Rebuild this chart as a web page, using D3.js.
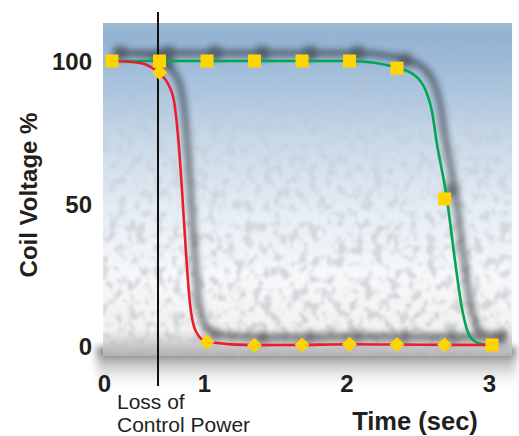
<!DOCTYPE html>
<html><head><meta charset="utf-8">
<script src="https://cdn.jsdelivr.net/npm/d3@7"></script>
<style>html,body{margin:0;padding:0;background:#fff;} svg{display:block;font-family:"Liberation Sans",Arial,Helvetica,sans-serif;}</style>
</head><body>
<script>
// ---- data ----
const xDomain = [0.277, 3];            // axis origin is labelled "0"
const xTickValues = [0.277, 1, 2, 3];
const xTickLabels = ["0", "1", "2", "3"];
const yTickValues = [0, 50, 100];
const lossOfPowerTime = 0.656;

// traced curve (time sec, coil voltage %)
const redTime  = [0.333, 0.53, 0.656, 0.726, 0.768, 0.796, 0.824, 0.852, 0.88, 0.923, 1.0, 1.33, 1.667, 2.0, 2.347, 2.684, 3.0];
const redValue = [100, 99.3, 96, 92, 86, 74, 55, 33, 15, 5, 1.4, 0.3, 0.4, 0.6, 0.5, 0.4, 0.35];
const greenTime  = [0.333, 1.0, 2.0, 2.347, 2.48, 2.54, 2.58, 2.61, 2.684, 2.74, 2.79, 2.85, 2.92, 3.0];
const greenValue = [100, 100, 100, 97.5, 94, 89, 82, 72, 51.6, 30, 13, 3, 0.8, 0.35];

// markers
const diamondTime  = [0.667, 1.0, 1.333, 1.667, 2.0, 2.333, 2.667];
const diamondValue = [96, 1.4, 0.3, 0.4, 0.6, 0.5, 0.4];
const squareTime  = [0.333, 0.667, 1.0, 1.333, 1.667, 2.0, 2.333, 2.667, 3.0];
const squareValue = [100, 100, 100, 100, 100, 100, 97.5, 51.6, 0.35];

const W = 519, H = 436;
const x = d3.scaleLinear().domain(xDomain).range([104, 492]);
const y = d3.scaleLinear().domain([0, 100]).range([346, 61]);
const panel = {x0: 103, x1: 512, y0: 23, y1: 356};

const svg = d3.select("body").append("svg").attr("width", W).attr("height", H);
const defs = svg.append("defs");

const g1 = defs.append("linearGradient").attr("id", "bg").attr("x1", 0).attr("y1", 0).attr("x2", 0).attr("y2", 1);
[[0, "#9cb9d6"], [0.04, "#93b2d2"], [0.15, "#a2bedb"], [0.35, "#c8d8e8"], [0.55, "#e4ecf4"], [0.75, "#f6f8fa"], [0.92, "#f2f2f2"], [1, "#b0b0b0"]]
  .forEach(([o, c]) => g1.append("stop").attr("offset", o).attr("stop-color", c));

const g2 = defs.append("linearGradient").attr("id", "floor").attr("x1", 0).attr("y1", 0).attr("x2", 0).attr("y2", 1);
[[0, "#7d7d7d", 0.0], [0.18, "#6a6a6a", 0.9], [0.4, "#999", 0.65], [1, "#ffffff", 0]]
  .forEach(([o, c, a]) => g2.append("stop").attr("offset", o).attr("stop-color", c).attr("stop-opacity", a));

const gm = defs.append("linearGradient").attr("id", "texfade").attr("x1", 0).attr("y1", 0).attr("x2", 0).attr("y2", 1);
[[0, 0.1], [0.3, 0.4], [0.7, 0.9], [1, 1]].forEach(([o, a]) => gm.append("stop").attr("offset", o).attr("stop-color", "#fff").attr("stop-opacity", a));
defs.append("mask").attr("id", "texmask").append("rect")
  .attr("x", panel.x0).attr("y", panel.y0).attr("width", panel.x1 - panel.x0).attr("height", panel.y1 - panel.y0)
  .attr("fill", "url(#texfade)");

const tf = defs.append("filter").attr("id", "tex").attr("x", 0).attr("y", 0).attr("width", 1).attr("height", 1);
tf.append("feTurbulence").attr("type", "fractalNoise").attr("baseFrequency", "0.11 0.09").attr("numOctaves", 2).attr("seed", 7).attr("result", "n");
tf.append("feColorMatrix").attr("in", "n").attr("type", "matrix")
  .attr("values", "0 0 0 0 0.5  0 0 0 0 0.52  0 0 0 0 0.55  5 0 0 0 -2.4");
tf.append("feGaussianBlur").attr("stdDeviation", 0.8);

const bl = defs.append("filter").attr("id", "blur").attr("x", "-20%").attr("y", "-20%").attr("width", "140%").attr("height", "140%");
bl.append("feGaussianBlur").attr("stdDeviation", 3);

const blf = defs.append("filter").attr("id", "blurfloor").attr("x", "-10%").attr("y", "-50%").attr("width", "120%").attr("height", "200%");
blf.append("feGaussianBlur").attr("stdDeviation", "4 2");

defs.append("clipPath").attr("id", "pclip").append("rect")
  .attr("x", panel.x0).attr("y", panel.y0).attr("width", panel.x1 - panel.x0).attr("height", panel.y1 - panel.y0 + 4);

// floor shadow under panel
svg.append("rect").attr("x", panel.x0 - 6).attr("y", panel.y1 - 14).attr("width", panel.x1 - panel.x0 + 10).attr("height", 50)
  .attr("fill", "url(#floor)").attr("filter", "url(#blurfloor)");

// panel
svg.append("rect").attr("x", panel.x0).attr("y", panel.y0).attr("width", panel.x1 - panel.x0).attr("height", panel.y1 - panel.y0)
  .attr("fill", "url(#bg)");
svg.append("rect").attr("x", panel.x0).attr("y", panel.y0).attr("width", panel.x1 - panel.x0).attr("height", panel.y1 - panel.y0)
  .attr("filter", "url(#tex)").attr("mask", "url(#texmask)").attr("opacity", 0.6);

const plot = svg.append("g").attr("clip-path", "url(#pclip)");
// left edge shadow
plot.append("line").attr("x1", panel.x0 + 5).attr("x2", panel.x0 + 5).attr("y1", panel.y0 + 4).attr("y2", panel.y1)
  .attr("stroke", "#2c3440").attr("stroke-width", 7).attr("opacity", 0.55).attr("filter", "url(#blur)");
// bottom dark band
plot.append("line").attr("x1", panel.x0).attr("x2", panel.x1).attr("y1", panel.y1 - 3).attr("y2", panel.y1 - 3)
  .attr("stroke", "#555").attr("stroke-width", 8).attr("opacity", 0.6).attr("filter", "url(#blur)");

const line = d3.line().x(d => x(d[0])).y(d => y(d[1])).curve(d3.curveMonotoneX);
const redPts = d3.zip(redTime, redValue);
const greenPts = d3.zip(greenTime, greenValue);
const diamonds = d3.zip(diamondTime, diamondValue);
const squares = d3.zip(squareTime, squareValue);

function drawSeries(g, shadow) {
  const col = c => shadow ? "#1f2328" : c;
  g.append("path").attr("d", line(greenPts)).attr("fill", "none").attr("stroke", col("#00a650")).attr("stroke-width", shadow ? 6 : 2.6);
  g.append("path").attr("d", line(redPts)).attr("fill", "none").attr("stroke", col("#ec1c2a")).attr("stroke-width", shadow ? 6 : 2.6);
  g.selectAll(".sq").data(squares).join("rect")
    .attr("x", d => x(d[0]) - 6.5).attr("y", d => y(d[1]) - 6.5).attr("width", 13).attr("height", 13)
    .attr("fill", col("#ffd400"));
  g.selectAll(".dm").data(diamonds).join("path")
    .attr("transform", d => `translate(${x(d[0])},${y(d[1])}) rotate(45)`)
    .attr("d", d3.symbol(d3.symbolSquare, 112)())
    .attr("fill", col("#ffd400"));
}
const sh = plot.append("g").attr("transform", "translate(8,-8)").attr("filter", "url(#blur)").attr("opacity", 0.6);
drawSeries(sh, true);

// vertical marker line
svg.append("line").attr("x1", x(lossOfPowerTime)).attr("x2", x(lossOfPowerTime)).attr("y1", 12).attr("y2", 386)
  .attr("stroke", "#111").attr("stroke-width", 2);

drawSeries(svg.append("g"), false);

// axes
const yAxis = svg.append("g").attr("transform", "translate(92,0)")
  .call(d3.axisLeft(y).tickValues(yTickValues).tickSize(0).tickPadding(0));
yAxis.select(".domain").remove();
yAxis.selectAll("text").attr("font-size", 24).attr("font-weight", "bold").attr("fill", "#231f20")
  .attr("font-family", "'Liberation Sans',Arial,sans-serif").attr("dy", "0.36em");

const xAxis = svg.append("g").attr("transform", "translate(0,374)")
  .call(d3.axisBottom(x).tickValues(xTickValues).tickFormat((d, i) => xTickLabels[i]).tickSize(0).tickPadding(0));
xAxis.select(".domain").remove();
xAxis.selectAll("text").attr("font-size", 24).attr("font-weight", "bold").attr("fill", "#231f20")
  .attr("font-family", "'Liberation Sans',Arial,sans-serif").attr("dy", "0.75em")
  .attr("dx", (d, i) => i === 0 ? 0 : -3);

svg.append("text").attr("transform", "translate(37,195) rotate(-90)").attr("text-anchor", "middle")
  .attr("font-size", 24).attr("font-weight", "bold").attr("fill", "#231f20").text("Coil Voltage %");
svg.append("text").attr("x", 415).attr("y", 430).attr("text-anchor", "middle")
  .attr("font-size", 25.5).attr("font-weight", "bold").attr("fill", "#231f20").text("Time (sec)");
const note = svg.append("text").attr("x", 117).attr("y", 409).attr("font-size", 21).attr("fill", "#231f20");
note.append("tspan").attr("x", 117).attr("dy", 0).text("Loss of");
note.append("tspan").attr("x", 117).attr("dy", 23).text("Control Power");
</script>
</body></html>
